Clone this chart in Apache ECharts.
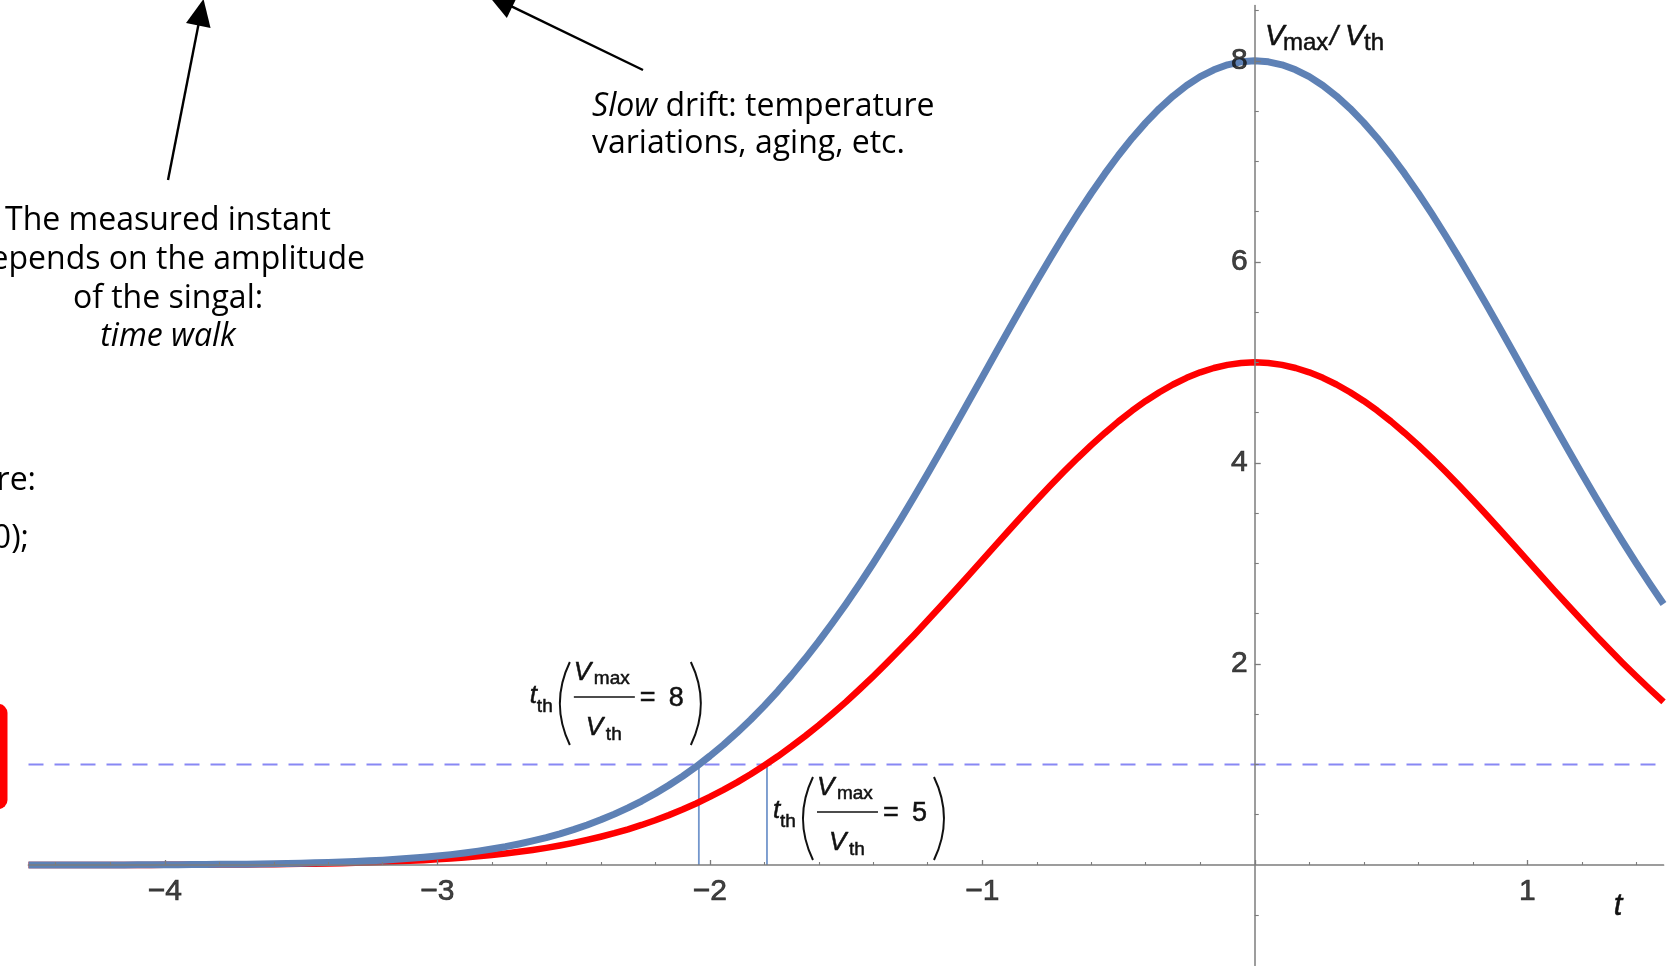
<!DOCTYPE html>
<html>
<head>
<meta charset="utf-8">
<script src="https://cdn.jsdelivr.net/npm/echarts@6/dist/echarts.min.js"></script>
<style>
  html, body { margin: 0; padding: 0; background: #ffffff; overflow: hidden; }
  #chart { width: 1678px; height: 966px; }
</style>
</head>
<body>
<div id="chart"></div>
<script>
// Time samples t (step 0.05) and the two pulse shapes, amplitude in units of V_th
const tValues = [
  -4.50, -4.45, -4.40, -4.35, -4.30, -4.25, -4.20, -4.15, -4.10, -4.05,
  -4.00, -3.95, -3.90, -3.85, -3.80, -3.75, -3.70, -3.65, -3.60, -3.55,
  -3.50, -3.45, -3.40, -3.35, -3.30, -3.25, -3.20, -3.15, -3.10, -3.05,
  -3.00, -2.95, -2.90, -2.85, -2.80, -2.75, -2.70, -2.65, -2.60, -2.55,
  -2.50, -2.45, -2.40, -2.35, -2.30, -2.25, -2.20, -2.15, -2.10, -2.05,
  -2.00, -1.95, -1.90, -1.85, -1.80, -1.75, -1.70, -1.65, -1.60, -1.55,
  -1.50, -1.45, -1.40, -1.35, -1.30, -1.25, -1.20, -1.15, -1.10, -1.05,
  -1.00, -0.95, -0.90, -0.85, -0.80, -0.75, -0.70, -0.65, -0.60, -0.55,
  -0.50, -0.45, -0.40, -0.35, -0.30, -0.25, -0.20, -0.15, -0.10, -0.05,
  0.00, 0.05, 0.10, 0.15, 0.20, 0.25, 0.30, 0.35, 0.40, 0.45,
  0.50, 0.55, 0.60, 0.65, 0.70, 0.75, 0.80, 0.85, 0.90, 0.95,
  1.00, 1.05, 1.10, 1.15, 1.20, 1.25, 1.30, 1.35, 1.40, 1.45, 1.50
];
// V_max / V_th = 8
const pulseHigh = [
  0.000, 0.000, 0.000, 0.001, 0.001, 0.001, 0.001, 0.001, 0.002, 0.002,
  0.003, 0.003, 0.004, 0.005, 0.006, 0.007, 0.008, 0.010, 0.012, 0.015,
  0.018, 0.021, 0.025, 0.029, 0.035, 0.041, 0.048, 0.056, 0.066, 0.076,
  0.089, 0.103, 0.119, 0.138, 0.159, 0.182, 0.209, 0.239, 0.272, 0.310,
  0.352, 0.398, 0.449, 0.506, 0.568, 0.636, 0.711, 0.793, 0.882, 0.978,
  1.083, 1.195, 1.316, 1.445, 1.583, 1.730, 1.886, 2.051, 2.224, 2.407,
  2.597, 2.796, 3.002, 3.216, 3.436, 3.663, 3.894, 4.130, 4.369, 4.610,
  4.852, 5.095, 5.336, 5.575, 5.809, 6.039, 6.262, 6.477, 6.682, 6.877,
  7.060, 7.230, 7.385, 7.525, 7.648, 7.754, 7.842, 7.910, 7.960, 7.990,
  8.000, 7.990, 7.960, 7.910, 7.842, 7.754, 7.648, 7.525, 7.385, 7.230,
  7.060, 6.877, 6.682, 6.477, 6.262, 6.039, 5.809, 5.575, 5.336, 5.095,
  4.852, 4.610, 4.369, 4.130, 3.894, 3.663, 3.436, 3.216, 3.002, 2.796, 2.597
];
// V_max / V_th = 5
const pulseLow = [
  0.000, 0.000, 0.000, 0.000, 0.001, 0.001, 0.001, 0.001, 0.001, 0.001,
  0.002, 0.002, 0.003, 0.003, 0.004, 0.004, 0.005, 0.006, 0.008, 0.009,
  0.011, 0.013, 0.015, 0.018, 0.022, 0.025, 0.030, 0.035, 0.041, 0.048,
  0.056, 0.064, 0.075, 0.086, 0.099, 0.114, 0.131, 0.149, 0.170, 0.194,
  0.220, 0.249, 0.281, 0.316, 0.355, 0.398, 0.445, 0.496, 0.551, 0.612,
  0.677, 0.747, 0.822, 0.903, 0.990, 1.081, 1.179, 1.282, 1.390, 1.504,
  1.623, 1.748, 1.877, 2.010, 2.148, 2.289, 2.434, 2.581, 2.730, 2.881,
  3.033, 3.184, 3.335, 3.484, 3.631, 3.774, 3.914, 4.048, 4.176, 4.298,
  4.413, 4.519, 4.616, 4.703, 4.780, 4.846, 4.901, 4.944, 4.975, 4.994,
  5.000, 4.994, 4.975, 4.944, 4.901, 4.846, 4.780, 4.703, 4.616, 4.519,
  4.413, 4.298, 4.176, 4.048, 3.914, 3.774, 3.631, 3.484, 3.335, 3.184,
  3.033, 2.881, 2.730, 2.581, 2.434, 2.289, 2.148, 2.010, 1.877, 1.748, 1.623
];
const thresholdLevel = 1;
const crossingHigh = -2.04;   // t_th for V_max/V_th = 8
const crossingLow = -1.79;    // t_th for V_max/V_th = 5

// Axis ticks and labels
const xMajorTicks = [-4, -3, -2, -1, 0, 1];
const xTickLabels = [-4, -3, -2, -1, 1];
const xMinorTicks = [-4.4, -4.2, -3.8, -3.6, -3.4, -3.2, -2.8, -2.6, -2.4, -2.2,
  -1.8, -1.6, -1.4, -1.2, -0.8, -0.6, -0.4, -0.2, 0.2, 0.4, 0.6, 0.8, 1.2, 1.4];
const yMajorTicks = [2, 4, 6, 8];
const yTickLabels = [2, 4, 6, 8];
const yMinorTicks = [-0.5, 0.5, 1, 1.5, 2.5, 3, 3.5, 4.5, 5, 5.5, 6.5, 7, 7.5, 8.5];

const AXIS_GRAY = '#7c7c7c';
const MATH_FONT = 'Liberation Sans, Arial, sans-serif';
const TEXT_FONT = '"Open Sans", sans-serif';
const INK = '#111111';

const chart = echarts.init(document.getElementById('chart'), null, { renderer: 'canvas' });

function pairs(xs, ys) { return xs.map((x, i) => [x, ys[i]]); }
function signed(v) { return v < 0 ? '\u2212' + Math.abs(v) : String(v); }

// tick labels sit on the axes that cross at the origin
function tickLabelSeries(points, position, distance, valueIndex) {
  return {
    type: 'scatter', silent: true, symbolSize: 0.1, z: 4,
    itemStyle: { color: 'rgba(0,0,0,0)' },
    data: points,
    label: {
      show: true, position: position, distance: distance,
      formatter: p => signed(p.value[valueIndex]),
      color: INK, fontFamily: MATH_FONT, fontSize: 30, lineHeight: 30,
      textBorderColor: INK, textBorderWidth: 0.7
    }
  };
}

const baseOption = {
  animation: false,
  backgroundColor: '#ffffff',
  grid: { left: 28.5, top: 5.5, width: 1635, height: 960, outerBoundsMode: 'none', containLabel: false },
  xAxis: [
    {
      type: 'value', min: -4.5, max: 1.5, position: 'bottom', z: 3,
      axisLine: { show: true, onZero: true, onZeroAxisIndex: 0, lineStyle: { color: AXIS_GRAY, width: 1.7 } },
      axisTick: { show: true, inside: true, length: 5, customValues: xMajorTicks, lineStyle: { color: AXIS_GRAY, width: 1.3 } },
      axisLabel: { show: false },
      splitLine: { show: false }, minorTick: { show: false }
    },
    {
      type: 'value', min: -4.5, max: 1.5, position: 'bottom', z: 3,
      axisLine: { show: false, onZero: true, onZeroAxisIndex: 0 },
      axisTick: { show: true, inside: true, length: 3, customValues: xMinorTicks, lineStyle: { color: AXIS_GRAY, width: 1.1 } },
      axisLabel: { show: false }, splitLine: { show: false }
    }
  ],
  yAxis: [
    {
      type: 'value', min: -1, max: 8.55, position: 'left', z: 3,
      axisLine: { show: true, onZero: true, onZeroAxisIndex: 0, lineStyle: { color: AXIS_GRAY, width: 1.5 } },
      axisTick: { show: true, inside: true, length: 6, customValues: yMajorTicks, lineStyle: { color: AXIS_GRAY, width: 1.3 } },
      axisLabel: { show: false },
      splitLine: { show: false }, minorTick: { show: false }
    },
    {
      type: 'value', min: -1, max: 8.55, position: 'left', z: 3,
      axisLine: { show: false, onZero: true, onZeroAxisIndex: 0 },
      axisTick: { show: true, inside: true, length: 4, customValues: yMinorTicks, lineStyle: { color: AXIS_GRAY, width: 1.1 } },
      axisLabel: { show: false }, splitLine: { show: false }
    }
  ],
  series: [
    {
      name: 'threshold', type: 'line', symbol: 'none', silent: true, z: 1,
      data: [[tValues[0], thresholdLevel], [tValues[tValues.length - 1], thresholdLevel]],
      lineStyle: { color: '#8888f4', width: 2, type: [15, 11] }
    },
    {
      name: 't_th high', type: 'line', symbol: 'none', silent: true, z: 1,
      data: [[crossingHigh, 0], [crossingHigh, thresholdLevel]],
      lineStyle: { color: '#7396cc', width: 1.8 }
    },
    {
      name: 't_th low', type: 'line', symbol: 'none', silent: true, z: 1,
      data: [[crossingLow, 0], [crossingLow, thresholdLevel]],
      lineStyle: { color: '#7396cc', width: 1.8 }
    },
    {
      name: 'V_max/V_th = 5', type: 'line', symbol: 'none', smooth: false, z: 2,
      data: pairs(tValues, pulseLow),
      lineStyle: { color: '#ff0000', width: 6.5, cap: 'butt', join: 'round' }
    },
    {
      name: 'V_max/V_th = 8', type: 'line', symbol: 'none', smooth: false, z: 2,
      data: pairs(tValues, pulseHigh),
      lineStyle: { color: '#5e81b5', width: 7, cap: 'butt', join: 'round' }
    },
    tickLabelSeries(xTickLabels.map(v => [v, 0]), 'bottom', 12, 0),
    tickLabelSeries(yTickLabels.map(v => [0, v]), 'left', 7, 1)
  ]
};

chart.setOption(baseOption);

// ---- annotation helpers ----
function txt(x, y, text, font, align, extra) {
  return {
    type: 'text', silent: true, z: 20,
    style: Object.assign({ x: x, y: y, text: text, font: font, fill: '#000',
      textAlign: align || 'left', textVerticalAlign: 'middle' }, extra || {})
  };
}
// math glyphs with a hair of extra weight
function mtxt(x, y, text, font, align) {
  return txt(x, y, text, font, align, { fill: INK, stroke: INK, lineWidth: 0.5 });
}

function arrow(tail, tip, headLen, headHalf) {
  const dx = tip[0] - tail[0], dy = tip[1] - tail[1];
  const len = Math.sqrt(dx * dx + dy * dy);
  const ux = dx / len, uy = dy / len;
  const bx = tip[0] - ux * headLen, by = tip[1] - uy * headLen;
  const px = -uy * headHalf, py = ux * headHalf;
  return [
    { type: 'line', silent: true, z: 20,
      shape: { x1: tail[0], y1: tail[1], x2: bx + ux * 2, y2: by + uy * 2 },
      style: { stroke: '#000', lineWidth: 2.4 } },
    { type: 'polygon', silent: true, z: 20,
      shape: { points: [[tip[0], tip[1]], [bx + px, by + py], [bx - px, by - py]] },
      style: { fill: '#000' } }
  ];
}

// t_th( V_max / V_th = n ), anchored at the left end of the fraction bar
function thresholdLabel(ax, ay, n) {
  const it = 'italic 26px ' + MATH_FONT;
  const up = '27px ' + MATH_FONT;
  const sub = '19px ' + MATH_FONT;
  const els = [
    mtxt(-44, -1, 't', it),
    mtxt(-37, 10, 'th', sub),
    { type: 'bezierCurve', silent: true, z: 20,
      shape: { x1: -4, y1: -35, cpx1: -24, cpy1: 6.5, x2: -4, y2: 48 },
      style: { stroke: INK, lineWidth: 2, fill: null } },
    mtxt(0, -24, 'V', it),
    mtxt(20, -18, 'max', sub),
    { type: 'line', silent: true, z: 20,
      shape: { x1: 0, y1: 0, x2: 61, y2: 0 }, style: { stroke: INK, lineWidth: 1.5 } },
    mtxt(12, 31, 'V', it),
    mtxt(32, 38, 'th', sub),
    mtxt(66, 2, '=', up),
    mtxt(95, 2, String(n), up),
    { type: 'bezierCurve', silent: true, z: 20,
      shape: { x1: 117, y1: -35, cpx1: 137, cpy1: 6.5, x2: 117, y2: 48 },
      style: { stroke: INK, lineWidth: 2, fill: null } }
  ];
  return { type: 'group', x: ax, y: ay, silent: true, children: els };
}

const pHigh = chart.convertToPixel({ gridIndex: 0 }, [crossingHigh, thresholdLevel]);
const pLow = chart.convertToPixel({ gridIndex: 0 }, [crossingLow, thresholdLevel]);

const textFont = '32px ' + TEXT_FONT;
const italicFont = 'italic 32px ' + TEXT_FONT;

const graphics = [
  // red box edge at the left border
  { type: 'rect', silent: true, z: 20,
    shape: { x: -60, y: 704, width: 67.5, height: 105, r: 9 }, style: { fill: '#ff0000' } },
  // clipped text fragments on the left
  txt(36, 481, 're:', textFont, 'right'),
  txt(29, 539, '0);', textFont, 'right'),
  // time-walk note
  txt(168, 221, 'The measured instant', textFont, 'center'),
  txt(168, 260, 'depends on the amplitude', textFont, 'center'),
  txt(168, 299, 'of the singal:', textFont, 'center'),
  txt(168, 337, 'time walk', italicFont, 'center'),
  // drift note
  { type: 'text', silent: true, z: 20,
    style: { x: 592, y: 107, text: '{i|Slow} drift: temperature', font: textFont, fill: '#000',
      textAlign: 'left', textVerticalAlign: 'middle',
      rich: { i: { font: italicFont, fill: '#000' } } } },
  txt(592, 144, 'variations, aging, etc.', textFont),
  // axis names
  mtxt(1265, 37, 'V', 'italic 29px ' + MATH_FONT),
  mtxt(1283, 43, 'max', '24px ' + MATH_FONT),
  mtxt(1330, 37, '/', 'italic 28px ' + MATH_FONT),
  mtxt(1345, 37, 'V', 'italic 29px ' + MATH_FONT),
  mtxt(1364, 43, 'th', '24px ' + MATH_FONT),
  mtxt(1618, 906, 't', 'italic 31px ' + MATH_FONT, 'center'),
  // threshold-crossing labels
  thresholdLabel(pHigh[0] - 125, pHigh[1] - 67.5, 8),
  thresholdLabel(pLow[0] + 50, pLow[1] + 47.5, 5)
].concat(
  arrow([168, 180], [203.5, -1], 27, 12.5),
  arrow([643, 70], [488, -5], 27, 12.5)
);

chart.setOption({ graphic: { elements: graphics } });
</script>
</body>
</html>
